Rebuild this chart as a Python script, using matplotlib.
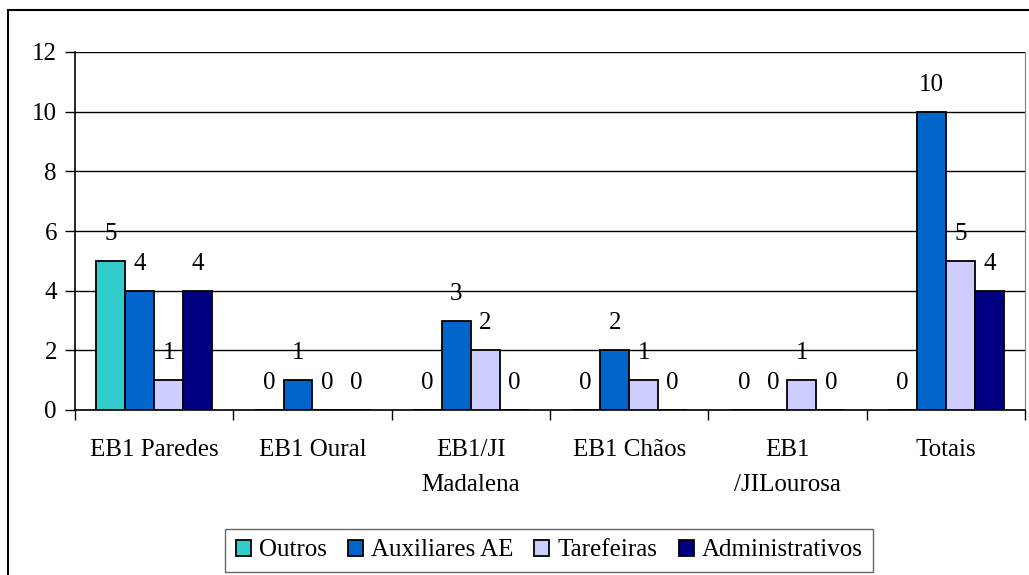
import matplotlib.pyplot as plt
import numpy as np
from matplotlib.patches import Rectangle

plt.rcParams['font.family'] = ['Liberation Serif', 'DejaVu Serif']

escolas = ['EB1 Paredes', 'EB1 Oural', 'EB1/JI\nMadalena', 'EB1 Chãos', 'EB1\n/JILourosa', 'Totais']
series = ['Outros', 'Auxiliares AE', 'Tarefeiras', 'Administrativos']
outros = [5, 0, 0, 0, 0, 0]
auxiliares = [4, 1, 3, 2, 0, 10]
tarefeiras = [1, 0, 2, 1, 1, 5]
administrativos = [4, 0, 0, 0, 0, 4]
cores = ['#33CCCC', '#0066CC', '#CCCCFF', '#000080']

valores = [outros, auxiliares, tarefeiras, administrativos]

fig = plt.figure(figsize=(10.29, 5.75), dpi=100)
ax = fig.add_axes([75/1029, 165/575, 950/1029, 358/575])

x = np.arange(len(escolas)) + 0.5
w = 0.183
for i, (nome, vals, cor) in enumerate(zip(series, valores, cores)):
    pos = x + (i - 1.5) * w
    # barras a zero nao se desenham (como no Excel)
    lws = [1.3 if v > 0 else 0 for v in vals]
    ax.bar(pos, vals, w, color=cor, edgecolor='black', linewidth=lws, label=nome, zorder=3)
    for px, v in zip(pos, vals):
        ax.annotate(str(v), (px, v), xytext=(0, 27), textcoords='offset pixels',
                    ha='center', va='center', fontsize=18, zorder=4)

ax.set_xlim(0, len(escolas))
ax.set_ylim(0, 12)
ax.set_yticks(range(0, 13, 2))
ax.set_xticks(range(0, len(escolas) + 1))
ax.set_xticklabels([])
ax.set_xticks(x, minor=True)
ax.set_xticklabels(escolas, minor=True, fontsize=18, linespacing=1.75)
ax.tick_params(axis='x', which='minor', length=0, pad=21)
ax.tick_params(axis='x', which='major', length=7, direction='out', width=1)
ax.tick_params(axis='y', length=7, direction='out', width=1, labelsize=18, pad=6)
ax.yaxis.grid(True, color='black', linewidth=1, zorder=0)
ax.set_axisbelow(True)

ax.spines['right'].set_color('#808080')
ax.spines['top'].set_visible(False)
ax.spines['left'].set_linewidth(1.2)
ax.spines['bottom'].set_linewidth(1.2)

handles, labels = ax.get_legend_handles_labels()
for h in handles:
    for r in h:
        r.set_linewidth(1.3)
leg = fig.legend(handles, labels, loc='center', bbox_to_anchor=(549/1029, 24.5/575), ncol=4,
                 fontsize=18, handlelength=0.6, handleheight=0.6, handletextpad=0.32,
                 columnspacing=0.85, borderpad=0.42, borderaxespad=0, fancybox=False, frameon=True)
leg.get_frame().set_edgecolor('#404040')
leg.get_frame().set_linewidth(1)

# moldura exterior do gráfico
fig.patches.append(Rectangle((8/1029, -0.1), 1.2, 1.1 - 10/575, transform=fig.transFigure,
                             fill=False, edgecolor='black', linewidth=1.5))

fig.savefig('out.png', dpi=100)
